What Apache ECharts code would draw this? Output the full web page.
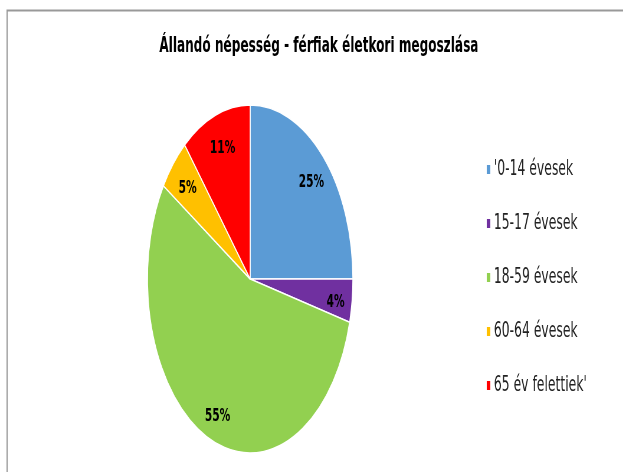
<!DOCTYPE html>
<html>
<head>
<meta charset="utf-8">
<script src="https://cdn.jsdelivr.net/npm/echarts@6/dist/echarts.min.js"></script>
<style>
  html, body { margin: 0; padding: 0; background: #fff; overflow: hidden; }
  /* the reference is squeezed sideways, so the chart is drawn wide and squeezed */
  #chart { width: 1056px; height: 472px; transform: scaleX(0.59); transform-origin: 0 0; }
</style>
</head>
<body>
<div id="chart"></div>
<script>
const categories = ["'0-14 évesek", '15-17 évesek', '18-59 évesek', '60-64 évesek', "65 év felettiek'"];
const shares = [25, 4, 55, 5, 11];
const colors = ['#5B9BD5', '#7030A0', '#92D050', '#FFC000', '#FF0000'];

const pieData = categories.map((name, i) => ({ name: name, value: shares[i] }));

var myChart = echarts.init(document.getElementById('chart'));
var option;

option = {
    animation: false,
    color: colors,
    title: {
        text: 'Állandó népesség - férfiak életkori megoszlása',
        left: 265,
        top: 31,
        textStyle: {
            fontFamily: 'DejaVu Sans',
            fontWeight: 'bold',
            fontSize: 20.5,
            color: '#000'
        }
    },
    legend: {
        orient: 'vertical',
        left: 818,
        top: 154,
        data: categories,
        icon: 'rect',
        itemWidth: 8,
        itemHeight: 11,
        itemGap: 33,
        textStyle: {
            fontFamily: 'DejaVu Sans',
            fontSize: 21,
            lineHeight: 20,
            color: '#222'
        }
    },
    graphic: [
        {
            type: 'rect',
            shape: { x: 12, y: 10.5, width: 1200, height: 600 },
            style: { fill: 'none', stroke: '#999', lineWidth: 2 },
            silent: true
        }
    ],
    series: [
        {
            // the slices
            type: 'pie',
            center: [424, 279],
            radius: [0, 174],
            startAngle: 90,
            clockwise: true,
            data: pieData,
            label: { show: false },
            labelLine: { show: false },
            itemStyle: { borderColor: '#fff', borderWidth: 1.5 },
            emphasis: { disabled: true }
        },
        {
            // invisible copy, only carries the percent labels further out
            type: 'pie',
            center: [426, 284],
            radius: [0, 282],
            startAngle: 90,
            clockwise: true,
            silent: true,
            data: pieData,
            itemStyle: { color: 'rgba(0,0,0,0)' },
            labelLine: { show: false },
            label: {
                show: true,
                position: 'inside',
                formatter: '{c}%',
                fontFamily: 'DejaVu Sans',
                fontWeight: 'bold',
                fontSize: 18,
                color: '#000'
            },
            emphasis: { disabled: true }
        }
    ]
};

option && myChart.setOption(option);
</script>
</body>
</html>
